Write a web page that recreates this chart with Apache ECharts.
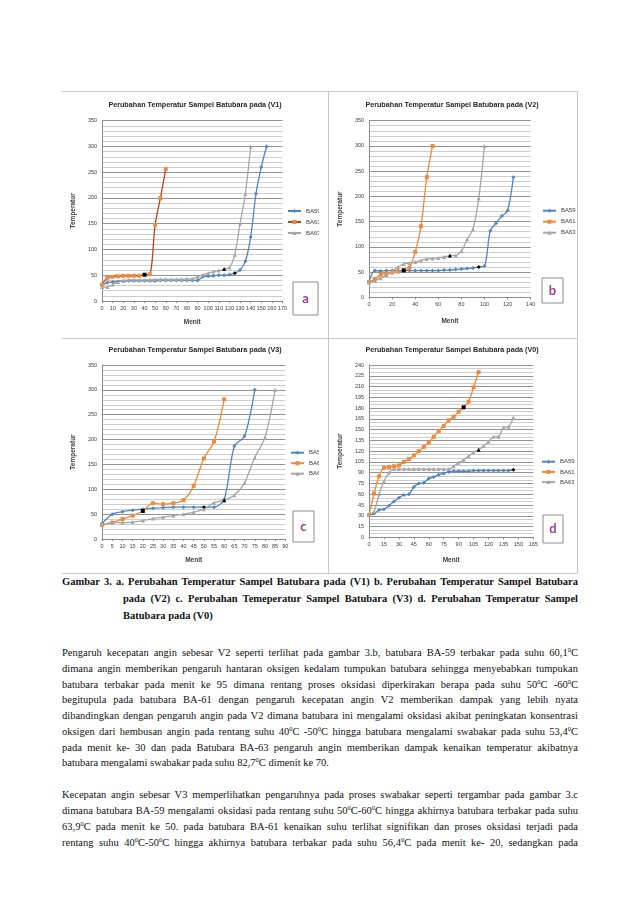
<!DOCTYPE html>
<html>
<head>
<meta charset="utf-8">
<script src="https://cdn.jsdelivr.net/npm/echarts@6/dist/echarts.min.js"></script>
<style>
  body { margin: 0; background: #fff; }
  #page { position: relative; width: 638px; height: 903px; background: #fff; overflow: hidden; }
  .chart { position: absolute; }
  .ln { position: absolute; background: #c9c9c9; }
  .tx { position: absolute; left: 62px; width: 516px; height: 16px; line-height: 16px;
        font-family: 'Liberation Serif', 'Times New Roman', serif; font-size: 10.5px; color: #111;
        text-align: justify; text-align-last: justify; overflow: hidden; }
  .tx.last { text-align-last: left; }
  .cap { font-weight: bold; font-size: 10.5px; }
  sup { font-size: 6.5px; line-height: 0; vertical-align: 4px; }
</style>
</head>
<body>
<div id="page">
  <!-- bingkai gambar -->
  <div class="ln" style="left:62px;top:91px;width:516px;height:1px"></div>
  <div class="ln" style="left:62px;top:338px;width:516px;height:1px"></div>
  <div class="ln" style="left:62px;top:573px;width:516px;height:1px"></div>
  <div class="ln" style="left:328px;top:91px;width:1px;height:483px"></div>
  <div class="ln" style="left:577px;top:91px;width:1px;height:483px"></div>

  <div id="chartA" class="chart" style="left:62px;top:92px;width:257px;height:244px"></div>
  <div id="chartB" class="chart" style="left:329px;top:92px;width:248px;height:244px"></div>
  <div id="chartC" class="chart" style="left:62px;top:340px;width:257px;height:231px"></div>
  <div id="chartD" class="chart" style="left:329px;top:340px;width:248px;height:231px"></div>

  <div class="tx cap" style="top:574px">Gambar 3. a. Perubahan Temperatur Sampel Batubara pada (V1) b. Perubahan Temperatur Sampel Batubara</div>
  <div class="tx cap" style="top:591px;left:123px;width:455px">pada (V2) c. Perubahan Temeperatur Sampel Batubara (V3) d. Perubahan Temperatur Sampel</div>
  <div class="tx cap last" style="top:608px;left:123px;width:455px">Batubara pada (V0)</div>

  <div class="tx" style="top:645px">Pengaruh kecepatan angin sebesar V2 seperti terlihat pada gambar 3.b, batubara BA-59 terbakar pada suhu 60,1<sup>0</sup>C</div>
  <div class="tx" style="top:661px">dimana angin memberikan pengaruh hantaran oksigen kedalam tumpukan batubara sehingga menyebabkan tumpukan</div>
  <div class="tx" style="top:677px">batubara terbakar pada menit ke 95 dimana rentang proses oksidasi diperkirakan berapa pada suhu 50<sup>0</sup>C -60<sup>0</sup>C</div>
  <div class="tx" style="top:692px">begitupula pada batubara BA-61 dengan pengaruh kecepatan angin V2 memberikan dampak yang lebih nyata</div>
  <div class="tx" style="top:708px">dibandingkan dengan pengaruh angin pada V2 dimana batubara ini mengalami oksidasi akibat peningkatan konsentrasi</div>
  <div class="tx" style="top:724px">oksigen dari hembusan angin pada rentang suhu 40<sup>0</sup>C -50<sup>0</sup>C hingga batubara mengalami swabakar pada suhu 53,4<sup>0</sup>C</div>
  <div class="tx" style="top:740px">pada menit ke- 30 dan pada Batubara BA-63 pengaruh angin memberikan dampak kenaikan temperatur akibatnya</div>
  <div class="tx last" style="top:755px">batubara mengalami swabakar pada suhu 82,7<sup>0</sup>C dimenit ke 70.</div>

  <div class="tx" style="top:787px">Kecepatan angin sebesar V3 memperlihatkan pengaruhnya pada proses swabakar seperti tergambar pada gambar 3.c</div>
  <div class="tx" style="top:803px">dimana batubara BA-59 mengalami oksidasi pada rentang suhu 50<sup>0</sup>C-60<sup>0</sup>C hingga akhirnya batubara terbakar pada suhu</div>
  <div class="tx" style="top:819px">63,9<sup>0</sup>C pada menit ke 50. pada batubara BA-61 kenaikan suhu terlihat signifikan dan proses oksidasi terjadi pada</div>
  <div class="tx" style="top:835px">rentang suhu 40<sup>0</sup>C-50<sup>0</sup>C hingga akhirnya batubara terbakar pada suhu 56,4<sup>0</sup>C pada menit ke- 20, sedangkan pada</div>
</div>

<script>
  // ---- data (menit, suhu) ----
  // V1
  var menitV1_59 = [0,5,10,15,20,25,30,35,40,45,50,55,60,65,70,75,80,85,90,95,100,105,110,115,120,125,130,135,140,145,150,155];
  var suhuV1_59  = [30,36,37,38,38,39,39,39,39,39,39,40,40,40,40,40,40,40,40,47,48,49,50,50,51,54,60,77,124,208,260,300];
  var menitV1_61 = [0,5,10,15,20,25,30,35,40,45,50,55,60];
  var suhuV1_61  = [32,45,47,48,49,49,49,49,51,52,148,200,256];
  var menitV1_63 = [0,5,10,15,20,25,30,35,40,45,50,55,60,65,70,75,80,85,90,95,100,105,110,115,120,125,130,135,140];
  var suhuV1_63  = [27,27,32,37,40,41,41,41,41,41,42,42,42,42,42,42,43,43,47,51,54,57,59,62,65,90,150,208,300];
  var nyalaV1 = [125, 40, 115];   // menit swabakar BA59, BA61, BA63

  // V2
  var menitV2_59 = [0,5,10,15,20,25,30,35,40,45,50,55,60,65,70,75,80,85,90,95,100,105,110,115,120,125];
  var suhuV2_59  = [31,53,52,53,53,53,53,53,53,53,53,53,53,54,54,55,56,57,58,60.1,62,132,147,161,172,238];
  var menitV2_61 = [0,5,10,15,20,25,30,35,40,45,50,55];
  var suhuV2_61  = [30,36,45,47,49,51,53.4,59,90,141,238,300];
  var menitV2_63 = [0,5,10,15,20,25,30,35,40,45,50,55,60,65,70,75,80,85,90,95,100];
  var suhuV2_63  = [30,33,38,44,52,60,66,68,70,73,76,77,78,80,82.7,83,92,115,135,196,300];
  var nyalaV2 = [95, 30, 70];

  // V3
  var menitV3_59 = [0,5,10,15,20,25,30,35,40,45,50,55,60,65,70,75];
  var suhuV3_59  = [31,50,55,58,60,62,63,64,64,64,63.9,64,80,187,207,300];
  var menitV3_61 = [0,5,10,15,20,25,30,35,40,45,50,55,60];
  var suhuV3_61  = [28,33,40,47,56.4,72,70,72,78,107,162,196,281];
  var menitV3_63 = [0,5,10,15,20,25,30,35,40,45,50,55,60,65,70,75,80,85];
  var suhuV3_63  = [29,33,33,34,37,41,44,47,50,54,60,73,78,88,113,164,204,300];
  var nyalaV3 = [50, 20, 60];

  // V0
  var menitV0_59 = [0,5,10,15,20,25,30,35,40,45,50,55,60,65,70,75,80,85,90,95,100,105,110,115,120,125,130,135,140,145];
  var suhuV0_59  = [31,33,38,39,44,50,55,59,60,70,75,76,82,84,87,89,91,92,92,92,92,93,93,93,93,93,93,93,93,94];
  var menitV0_61 = [0,5,10,15,20,25,30,35,40,45,50,55,60,65,70,75,80,85,90,95,100,105,110];
  var suhuV0_61  = [31,61,85,97,98,99,100,105,109,114,120,126,132,140,148,155,163,168,175,181,189,209,230];
  var menitV0_63 = [0,5,10,15,20,25,30,35,40,45,50,55,60,65,70,75,80,85,90,95,100,105,110,115,120,125,130,135,140,145];
  var suhuV0_63  = [31,36,60,78,90,95,95,95,95,95,95,95,95,95,95,95,95,99,104,108,113,118,122,127,133,140,140,153,154,167];
  var nyalaV0 = [145, 95, 110];

  var namaSampel = ['BA59', 'BA61', 'BA63'];

  var fontChart = "'Liberation Sans', Arial, sans-serif";

  function seri(nama, menit, suhu, nyala, simbol, warnaGaris, warnaTitik) {
    return {
      name: nama,
      type: 'line',
      smooth: 0.3,
      symbol: simbol,
      symbolSize: 4,
      lineStyle: { color: warnaGaris, width: 1.3 },
      itemStyle: { color: warnaTitik || warnaGaris },
      data: menit.map(function (m, i) {
        var d = { value: [m, suhu[i]] };
        if (m === nyala) d.itemStyle = { color: '#000' };
        return d;
      })
    };
  }

  function panel(id, p) {
    var chart = echarts.init(document.getElementById(id));
    var option = {
      animation: false,
      textStyle: { fontFamily: fontChart },
      grid: p.grid,
      legend: {
        orient: 'vertical', left: p.legend[0], top: p.legend[1], itemGap: p.legend[2],
        itemWidth: 13, itemHeight: 5, padding: 0,
        textStyle: { fontSize: 6, color: '#404040', fontFamily: fontChart },
        data: namaSampel
      },
      xAxis: {
        type: 'value', min: 0, max: p.xMax, interval: p.xInt,
        name: 'Menit', nameLocation: 'middle', nameGap: p.xGap,
        nameTextStyle: { fontSize: 6.5, fontWeight: 'bold', color: '#404040' },
        axisLine: { lineStyle: { color: '#8c8c8c' } },
        axisTick: { show: true, length: 2, lineStyle: { color: '#8c8c8c' } },
        axisLabel: { fontSize: 5.5, color: '#404040', margin: 4 },
        splitLine: { show: false }
      },
      yAxis: {
        type: 'value', min: 0, max: p.yMax, interval: p.yInt,
        name: 'Temperatur', nameLocation: 'middle', nameGap: p.yGap, nameRotate: 90,
        nameTextStyle: { fontSize: 6.5, fontWeight: 'bold', color: '#404040' },
        axisLine: { show: true, lineStyle: { color: '#8c8c8c' } },
        axisTick: { show: false },
        axisLabel: { fontSize: 5.5, color: '#404040', margin: 5 },
        splitLine: { lineStyle: { color: '#939393', width: 1 } },
        minorTick: { show: false, splitNumber: p.minor },
        minorSplitLine: { show: true, lineStyle: { color: '#cdcdcd', width: 1 } }
      },
      graphic: [
        { type: 'text', x: p.title[0], y: p.title[1],
          style: { text: p.judul, align: 'center', verticalAlign: 'middle',
                   font: 'bold 7.2px ' + fontChart, fill: '#262626' } },
        { type: 'rect', shape: { x: p.box[0], y: p.box[1], width: p.box[2], height: p.box[3] },
          style: { fill: '#fff', stroke: '#8c8c8c', lineWidth: 1 } },
        { type: 'text', x: p.box[0] + p.box[2] / 2, y: p.box[1] + p.box[3] / 2,
          style: { text: p.huruf, align: 'center', verticalAlign: 'middle',
                   font: 'bold 13px Lato, sans-serif', fill: '#a23a9c' } }
      ],
      series: p.series
    };
    chart.setOption(option);
  }

  var biru = '#4e86c4', oranye = '#ef8a3a', abu = '#a6a6a6';

  panel('chartA', {
    judul: 'Perubahan Temperatur Sampel Batubara pada (V1)', title: [133, 13], huruf: 'a',
    grid: { left: 32.7, top: 28.7, width: 187.8, height: 180.3 },
    xMax: 170, xInt: 10, yMax: 350, yInt: 50, minor: 5, yGap: 16, xGap: 18,
    legend: [225, 116, 5], box: [231, 190, 25, 33],
    series: [
      seri('BA59', menitV1_59, suhuV1_59, nyalaV1[0], 'diamond', biru),
      seri('BA61', menitV1_61, suhuV1_61, nyalaV1[1], 'rect', '#b8431f', oranye),
      seri('BA63', menitV1_63, suhuV1_63, nyalaV1[2], 'triangle', abu)
    ]
  });

  panel('chartB', {
    judul: 'Perubahan Temperatur Sampel Batubara pada (V2)', title: [123, 13], huruf: 'b',
    grid: { left: 30.3, top: 28.7, width: 171.4, height: 176.6 },
    xMax: 140, xInt: 20, yMax: 350, yInt: 50, minor: 5, yGap: 15, xGap: 20,
    legend: [213, 115.7, 5], box: [213, 186, 21, 25],
    series: [
      seri('BA59', menitV2_59, suhuV2_59, nyalaV2[0], 'diamond', biru),
      seri('BA61', menitV2_61, suhuV2_61, nyalaV2[1], 'rect', oranye),
      seri('BA63', menitV2_63, suhuV2_63, nyalaV2[2], 'triangle', abu)
    ]
  });

  panel('chartC', {
    judul: 'Perubahan Temperatur Sampel Batubara pada (V3)', title: [133, 10], huruf: 'c',
    grid: { left: 32, top: 25, width: 191.3, height: 174 },
    xMax: 90, xInt: 5, yMax: 350, yInt: 50, minor: 5, yGap: 16.5, xGap: 17.5,
    legend: [228, 109.7, 4.5], box: [231, 171, 21, 31],
    series: [
      seri('BA59', menitV3_59, suhuV3_59, nyalaV3[0], 'diamond', biru),
      seri('BA61', menitV3_61, suhuV3_61, nyalaV3[1], 'rect', oranye),
      seri('BA63', menitV3_63, suhuV3_63, nyalaV3[2], 'triangle', abu)
    ]
  });

  panel('chartD', {
    judul: 'Perubahan Temperatur Sampel Batubara pada (V0)', title: [123, 10], huruf: 'd',
    grid: { left: 28.7, top: 25, width: 175.6, height: 172.3 },
    xMax: 165, xInt: 15, yMax: 240, yInt: 15, minor: 3, yGap: 15, xGap: 19,
    legend: [212, 118.7, 4.2], box: [214, 175, 20, 28],
    series: [
      seri('BA59', menitV0_59, suhuV0_59, nyalaV0[0], 'diamond', biru),
      seri('BA61', menitV0_61, suhuV0_61, nyalaV0[1], 'rect', oranye),
      seri('BA63', menitV0_63, suhuV0_63, nyalaV0[2], 'triangle', abu)
    ]
  });
</script>
</body>
</html>
